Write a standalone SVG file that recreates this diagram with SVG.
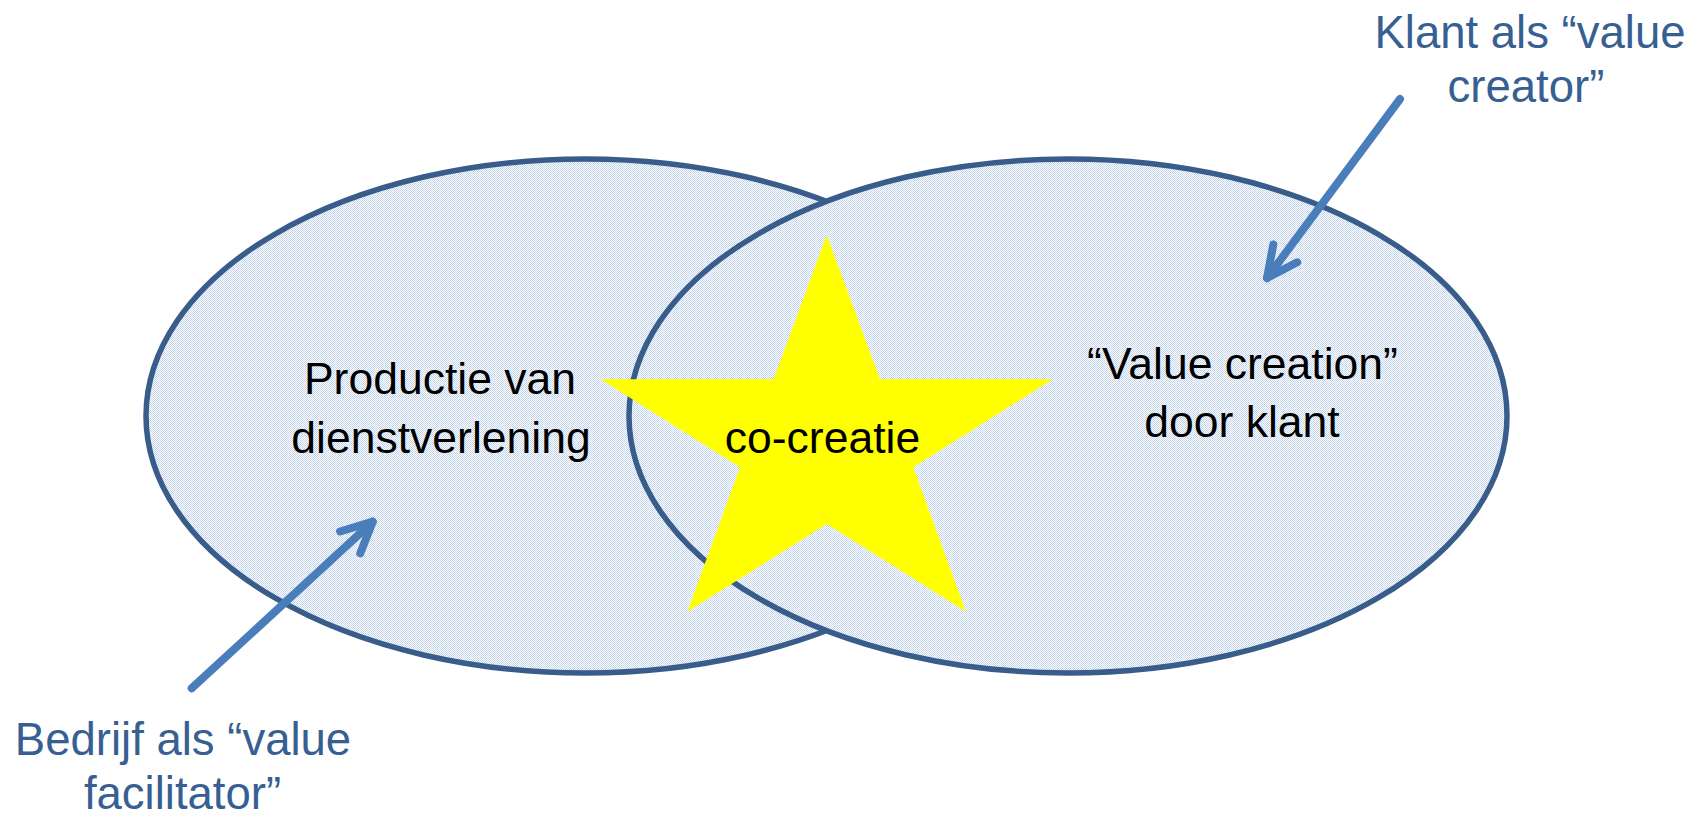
<svg xmlns="http://www.w3.org/2000/svg" width="1697" height="819" viewBox="0 0 1697 819">
<style>
.ell{stroke:#385d8a;stroke-width:5.5;fill:url(#dots)}
.lbl{font-family:"Liberation Sans",Arial,sans-serif;font-size:44.5px;fill:#000;text-anchor:middle}
.blue{font-family:"Liberation Sans",Arial,sans-serif;font-size:45.5px;fill:#376092;text-anchor:middle}
.arr{stroke:#4a7ebb;stroke-width:8;fill:none;stroke-linecap:round;marker-end:url(#vhead)}
</style>
<defs>
<pattern id="dots" x="0" y="0" width="2" height="2" patternUnits="userSpaceOnUse">
<rect width="2" height="2" fill="#ffffff"/>
<rect x="0" y="0" width="1" height="1" fill="#c2d4ee"/>
<rect x="1" y="1" width="1" height="1" fill="#c2d4ee"/>
</pattern>
<marker id="vhead" markerUnits="userSpaceOnUse" viewBox="-40 -40 80 80" markerWidth="80" markerHeight="80" refX="0" refY="0" orient="auto" overflow="visible">
<path d="M -30.6 -14.9 L 0 0 L -30.6 14.9" fill="none" stroke="#4a7ebb" stroke-width="8" stroke-linecap="round" stroke-linejoin="round"/>
</marker>
</defs>
<rect width="1697" height="819" fill="#ffffff"/>
<g id="node-productie">
<ellipse class="ell" cx="585" cy="416" rx="439" ry="257"/>
</g>
<g id="node-value-creation">
<ellipse class="ell" cx="1068" cy="416" rx="439" ry="257"/>
</g>
<g id="node-cocreatie">
<polygon fill="#ffff00" points="826.7,235 880,379.3 1052.7,379.3 913.3,467.3 966,611.7 826.7,524 687.3,611.7 740,467.3 600.7,379.3 773.7,379.3"/>
<text class="lbl" x="822.5" y="452.7">co-creatie</text>
</g>
<g id="label-productie">
<text class="lbl" x="440" y="394">Productie van</text>
<text class="lbl" x="441" y="452.5">dienstverlening</text>
</g>
<g id="label-value-creation">
<text class="lbl" x="1242.5" y="379">“Value creation”</text>
<text class="lbl" x="1242" y="437">door klant</text>
</g>
<g id="connectors">
<path class="arr" d="M 1400 99 L 1267 278"/>
<path class="arr" d="M 191.7 688.3 L 372.7 521.7"/>
</g>
<g id="node-klant">
<text class="blue" x="1530" y="48.3">Klant als “value</text>
<text class="blue" x="1526" y="101.7">creator”</text>
</g>
<g id="node-bedrijf">
<text class="blue" x="183" y="755">Bedrijf als “value</text>
<text class="blue" x="182.5" y="809">facilitator”</text>
</g>
</svg>
